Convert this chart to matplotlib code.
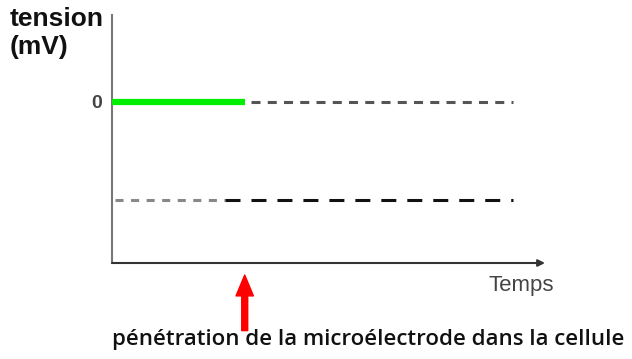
import matplotlib.pyplot as plt

plt.rcParams['lines.scale_dashes'] = False
plt.rcParams['font.family'] = ['Liberation Sans', 'DejaVu Sans']

# Data (time in arbitrary units, tension in mV)
t_pen = 4.0          # penetration of the microelectrode
t_axis_end = 13.05
v_min, v_max = -115, 62

green_t = [0, 4.0]
green_v = [0, 0]
zero_dash_t = [4.2, 12.1]
zero_dash_v = [0, 0]
rest_gray_t = [0.1, 3.4]
rest_black_t = [3.4, 12.1]
rest_v = [-70, -70]

fig = plt.figure(figsize=(6.32, 3.59), dpi=100)
ax = fig.add_axes([112 / 632, 96 / 359, 433 / 632, 248 / 359])
ax.set_xlim(0, t_axis_end)
ax.set_ylim(v_min, v_max)

# Curves
ax.plot(green_t, green_v, color='#00ee00', lw=4.5, solid_capstyle='butt', zorder=3)
ax.plot(zero_dash_t, zero_dash_v, color='#555555', lw=2.2, linestyle=(0, (6.5, 5.2)))
ax.plot(rest_gray_t, rest_v, color='#888888', lw=2.2, linestyle=(0, (5.8, 5.4)))
ax.plot(rest_black_t, rest_v, color='#111111', lw=2.2, linestyle=(0, (10.8, 7.9)))

# Axes styling
for s in ['top', 'right', 'bottom']:
    ax.spines[s].set_visible(False)
ax.spines['left'].set_color('#777777')
ax.spines['left'].set_linewidth(1.5)
ax.set_xticks([])
ax.set_yticks([0])
ax.set_yticklabels(['0'], fontsize=14, fontweight='bold', color='#444444')
ax.tick_params(axis='y', length=0, pad=7)

# x axis with arrow
ax.annotate('', xy=(t_axis_end, v_min), xytext=(0, v_min),
            xycoords='data', annotation_clip=False,
            arrowprops=dict(arrowstyle='-|>', color='#333333', lw=1.5,
                            mutation_scale=10, shrinkA=0, shrinkB=0))

# Labels
fig.text(10 / 632, 1 - 7 / 359, 'tension\n(mV)', fontsize=19, fontweight='bold',
         ha='left', va='top', linespacing=1.2, color='#111111')
ax.annotate('Temps', xy=(1, 0), xycoords='axes fraction', xytext=(-17, -16),
            textcoords='offset points', ha='center', va='center',
            fontsize=16, color='#444444')

# Red arrow for penetration
ax.annotate('', xy=(t_pen, v_min - 8.6), xycoords='data',
            xytext=(0, -40), textcoords='offset points', annotation_clip=False,
            arrowprops=dict(facecolor='#ff0000', edgecolor='#ff0000',
                            width=4.3, headwidth=12.5, headlength=15, shrink=0))
ax.annotate('pénétration de la microélectrode dans la cellule',
            xy=(0, 0), xycoords='axes fraction', xytext=(0, -55),
            textcoords='offset points', ha='left', va='center',
            fontsize=16, fontweight='semibold', family='Open Sans', color='#111111')

fig.savefig('out.png', dpi=100)
